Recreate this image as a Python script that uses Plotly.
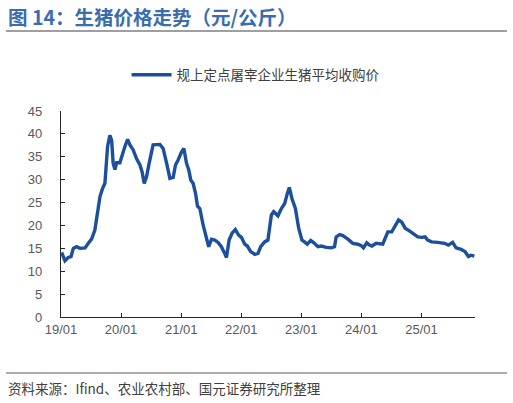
import pandas as pd
import plotly.graph_objects as go

# 规上定点屠宰企业生猪平均收购价 (元/公斤)
dates = [
    "2019-01-05", "2019-01-25", "2019-02-14", "2019-03-03", "2019-03-17", "2019-04-06",
    "2019-04-26", "2019-05-27", "2019-06-16", "2019-07-06", "2019-07-26", "2019-08-12",
    "2019-08-26", "2019-09-11", "2019-09-25", "2019-10-11", "2019-10-25", "2019-11-05",
    "2019-11-14", "2019-11-25", "2019-12-05", "2019-12-25", "2020-01-11", "2020-01-24",
    "2020-02-10", "2020-02-24", "2020-03-15", "2020-04-04", "2020-04-25", "2020-05-08",
    "2020-05-21", "2020-06-04", "2020-06-20", "2020-07-05", "2020-07-14", "2020-08-24",
    "2020-09-13", "2020-10-04", "2020-10-24", "2020-11-13", "2020-11-27", "2020-12-13",
    "2021-01-03", "2021-01-17", "2021-02-02", "2021-02-16", "2021-02-28", "2021-03-14",
    "2021-03-29", "2021-04-10", "2021-04-24", "2021-05-14", "2021-06-03", "2021-06-17",
    "2021-07-04", "2021-07-24", "2021-08-13", "2021-09-02", "2021-09-22", "2021-10-03",
    "2021-10-19", "2021-11-06", "2021-11-26", "2021-12-16", "2022-01-02", "2022-01-22",
    "2022-02-07", "2022-02-27", "2022-03-24", "2022-04-13", "2022-04-29", "2022-05-23",
    "2022-06-12", "2022-07-03", "2022-07-17", "2022-08-12", "2022-09-02", "2022-09-22",
    "2022-10-08", "2022-10-20", "2022-11-05", "2022-11-26", "2022-12-16", "2023-01-05",
    "2023-01-21", "2023-02-06", "2023-02-27", "2023-03-19", "2023-04-12", "2023-05-02",
    "2023-06-02", "2023-07-02", "2023-07-22", "2023-08-01", "2023-08-22", "2023-09-11",
    "2023-10-11", "2023-11-10", "2023-12-11", "2023-12-31", "2024-01-14", "2024-02-03",
    "2024-02-20", "2024-03-05", "2024-03-31", "2024-05-10", "2024-05-25", "2024-06-10",
    "2024-07-04", "2024-07-25", "2024-08-14", "2024-09-03", "2024-09-23", "2024-10-19",
    "2024-11-15", "2024-12-09", "2025-01-02", "2025-01-23", "2025-02-07", "2025-03-04",
    "2025-04-09", "2025-05-20", "2025-06-13", "2025-07-09", "2025-07-30", "2025-08-29",
    "2025-09-22", "2025-10-13", "2025-10-29", "2025-11-18",
]
prices = [
    14.1, 12.3, 13.0, 13.2, 15.0, 15.35,
    15.0, 15.1, 16.1, 17.0, 19.0, 22.6,
    26.3, 28.1, 29.2, 37.2, 39.7, 38.6,
    33.6, 32.2, 33.7, 33.7, 36.1, 37.2,
    38.8, 37.6, 36.5, 34.6, 33.2, 31.7,
    29.2, 30.6, 33.6, 36.5, 37.6, 37.7,
    36.8, 33.6, 30.3, 30.5, 33.2, 34.3,
    36.1, 36.8, 33.6, 32.1, 29.9, 29.2,
    27.0, 24.2, 23.7, 20.1, 17.5, 15.35,
    17.0, 16.8, 16.3, 15.35, 13.9, 13.0,
    16.8, 18.3, 19.1, 17.9, 17.4, 15.9,
    15.5, 14.3, 13.7, 13.9, 15.35, 16.4,
    16.8, 22.3, 23.0, 22.1, 23.7, 24.8,
    27.0, 28.3, 25.9, 23.7, 19.4, 16.8,
    16.4, 15.9, 16.7, 16.2, 15.35, 15.5,
    15.2, 15.1, 15.35, 17.5, 18.0, 17.8,
    17.0, 16.1, 15.9, 15.6, 15.1, 16.2,
    15.7, 15.5, 16.1, 15.9, 17.2, 18.6,
    18.6, 19.9, 21.2, 20.7, 19.4, 18.8,
    18.1, 17.5, 17.4, 17.5, 16.8, 16.4,
    16.3, 16.1, 15.7, 16.3, 15.1, 14.8,
    14.3, 13.2, 13.5, 13.3,
]
y_ticks = [0, 5, 10, 15, 20, 25, 30, 35, 40, 45]
series_name = "规上定点屠宰企业生猪平均收购价"

df = pd.DataFrame({"date": pd.to_datetime(dates), "price": prices})

W, H = 513, 403
L, R, T, B = 61, 475, 111, 317  # plot area in pixels


def px_x(x):
    return (x - L) / (R - L)


def px_y(y):
    return (B - y) / (B - T)


cjk = "Noto Sans CJK SC"
num = "Liberation Sans, Arial"
grey = "#595959"

fig = go.Figure()
fig.add_trace(go.Scatter(
    x=df["date"], y=df["price"], mode="lines", name=series_name,
    line=dict(color="#1c4f9c", width=3.4),
))

fig.update_layout(
    width=W, height=H,
    margin=dict(l=L, r=W - R, t=T, b=H - B),
    paper_bgcolor="white", plot_bgcolor="white",
    showlegend=True,
    legend=dict(
        orientation="h", x=0.47, xanchor="center", y=px_y(75), yanchor="middle",
        font=dict(family=cjk, size=13.5, color="#404040"),
        itemwidth=40,
    ),
    xaxis=dict(
        range=["2019-01-01", "2025-11-22"],
        tick0="2019-01-01", dtick="M12", tickformat="%y/%m",
        showgrid=False, zeroline=False,
        showline=True, linecolor="#262626", linewidth=1.3,
        ticks="inside", ticklen=4, tickcolor="#262626",
        tickfont=dict(family=num, size=13, color=grey),
    ),
    yaxis=dict(
        range=[0, 45], tickvals=y_ticks,
        showgrid=False, zeroline=False,
        showline=True, linecolor="#262626", linewidth=1.3,
        ticks="inside", ticklen=4, tickcolor="#262626",
        tickfont=dict(family=num, size=13, color=grey),
        ticklabelstandoff=15,
    ),
    shapes=[
        dict(type="line", xref="paper", yref="paper",
             x0=px_x(6), x1=px_x(507), y0=px_y(31), y1=px_y(31),
             line=dict(color="#7f7f7f", width=1.5)),
        dict(type="line", xref="paper", yref="paper",
             x0=px_x(6), x1=px_x(507), y0=px_y(373), y1=px_y(373),
             line=dict(color="#595959", width=1.2)),
    ],
    annotations=[
        dict(text="<b>图 14：生猪价格走势（元/公斤）</b>", xref="paper", yref="paper",
             x=px_x(6), y=px_y(16), xanchor="left", yanchor="middle", showarrow=False,
             font=dict(family=cjk, size=19.5, color="#3a6cb0")),
        dict(text="资料来源：Ifind、农业农村部、国元证券研究所整理", xref="paper", yref="paper",
             x=px_x(6), y=px_y(388), xanchor="left", yanchor="middle", showarrow=False,
             font=dict(family=cjk, size=13.5, color="#404040")),
    ],
)

# the page's body has a default 8px margin; remove it so the chart sits at 0,0
fig.write_html("out.html", config={"displayModeBar": False},
               post_script="document.body.style.margin='0';")
